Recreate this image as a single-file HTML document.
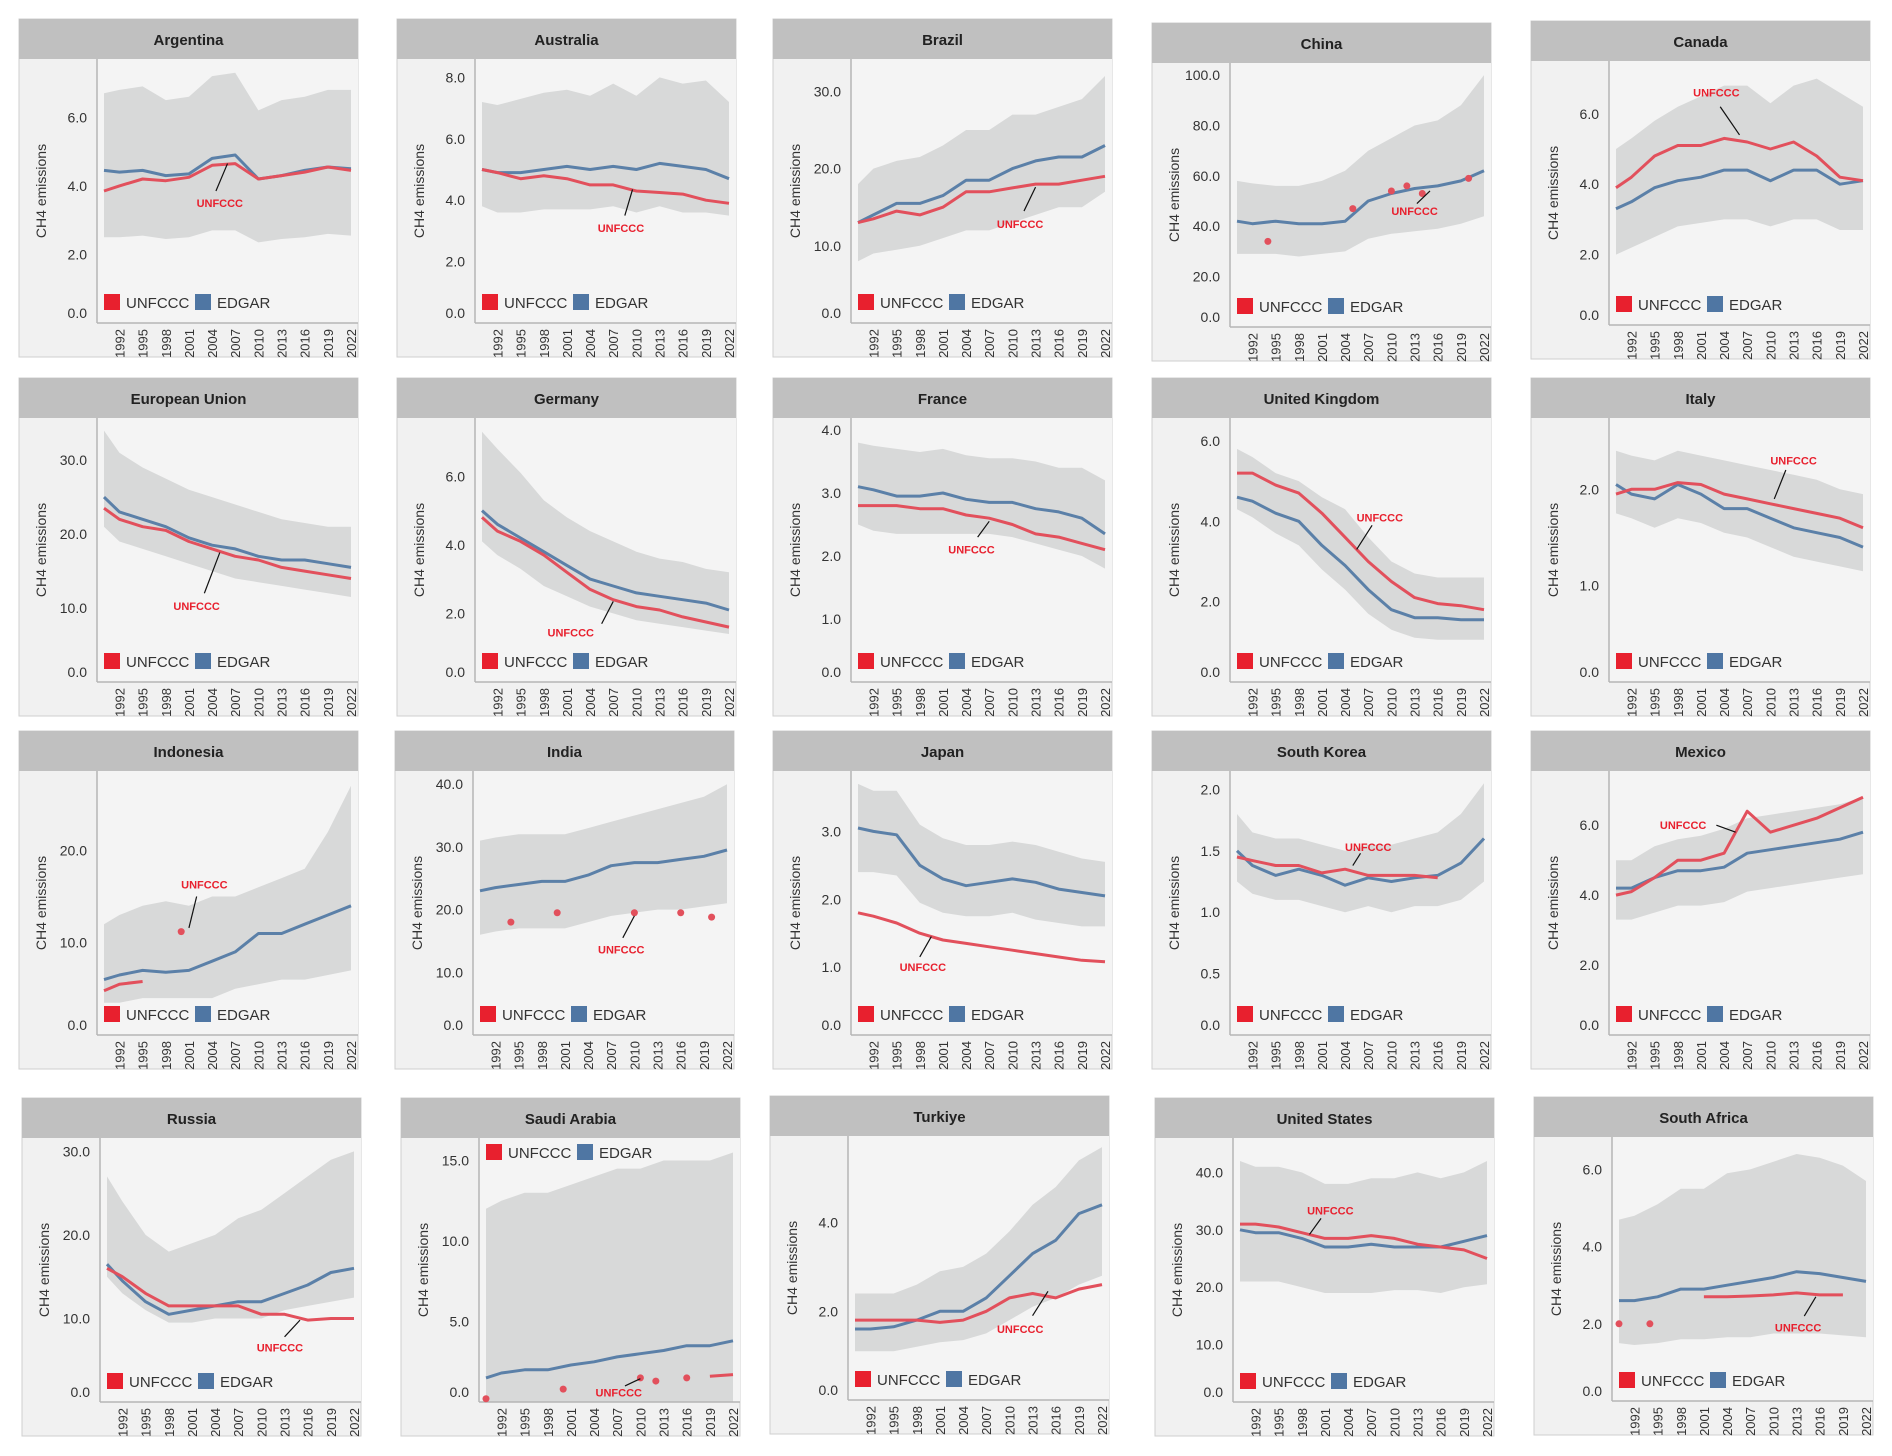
<!DOCTYPE html>
<html><head><meta charset="utf-8">
<style>
html,body{margin:0;padding:0;background:#fff;}
svg{display:block;font-family:"Liberation Sans",sans-serif;}
</style></head>
<body>
<svg id="chart" width="1892" height="1456" viewBox="0 0 1892 1456" xmlns="http://www.w3.org/2000/svg"></svg>
<script>
const years = [1990,1992,1995,1998,2001,2004,2007,2010,2013,2016,2019,2022];
const tickYears = [1992,1995,1998,2001,2004,2007,2010,2013,2016,2019,2022];
const countries = ["Argentina","Australia","Brazil","China","Canada","European Union","Germany","France","United Kingdom","Italy","Indonesia","India","Japan","South Korea","Mexico","Russia","Saudi Arabia","Turkiye","United States","South Africa"];
const yMaxes = [7.7,8.6,34.2,104.8,7.5,35.7,7.7,4.19,6.57,2.74,28.6,42.1,3.89,2.15,7.55,31.6,16.4,5.95,46,6.84];
const tickSteps = [2,2,10,20,2,10,2,1,2,1,10,10,1,0.5,2,10,5,2,10,2];
const edgar = [
[4.45,4.4,4.45,4.3,4.35,4.8,4.9,4.2,4.3,4.45,4.55,4.5],
[5.0,4.9,4.9,5.0,5.1,5.0,5.1,5.0,5.2,5.1,5.0,4.7],
[13,14,15.5,15.5,16.5,18.5,18.5,20,21,21.5,21.5,23],
[42,41,42,41,41,42,50,53,55,56,58,62],
[3.3,3.5,3.9,4.1,4.2,4.4,4.4,4.1,4.4,4.4,4.0,4.1],
[25,23,22,21,19.5,18.5,18,17,16.5,16.5,16,15.5],
[5.0,4.6,4.2,3.8,3.4,3.0,2.8,2.6,2.5,2.4,2.3,2.1],
[3.1,3.05,2.95,2.95,3.0,2.9,2.85,2.85,2.75,2.7,2.6,2.35],
[4.6,4.5,4.2,4.0,3.4,2.9,2.3,1.8,1.6,1.6,1.55,1.55],
[2.05,1.95,1.9,2.05,1.95,1.8,1.8,1.7,1.6,1.55,1.5,1.4],
[6,6.5,7,6.8,7,8,9,11,11,12,13,14],
[23,23.5,24,24.5,24.5,25.5,27,27.5,27.5,28,28.5,29.5],
[3.05,3.0,2.95,2.5,2.3,2.2,2.25,2.3,2.25,2.15,2.1,2.05],
[1.5,1.38,1.3,1.35,1.3,1.22,1.28,1.25,1.28,1.3,1.4,1.6],
[4.2,4.2,4.5,4.7,4.7,4.8,5.2,5.3,5.4,5.5,5.6,5.8],
[16.5,14.5,12,10.5,11,11.5,12,12,13,14,15.5,16],
[1.5,1.8,2,2,2.3,2.5,2.8,3,3.2,3.5,3.5,3.8],
[1.6,1.6,1.65,1.8,2.0,2.0,2.3,2.8,3.3,3.6,4.2,4.4],
[30,29.5,29.5,28.5,27,27,27.5,27,27,27,28,29],
[2.6,2.6,2.7,2.9,2.9,3.0,3.1,3.2,3.35,3.3,3.2,3.1]];
const upper = [
[6.7,6.8,6.9,6.5,6.6,7.2,7.3,6.2,6.5,6.6,6.8,6.8],
[7.2,7.1,7.3,7.5,7.6,7.4,7.8,7.4,8.0,7.8,7.9,7.2],
[18,20,21,21.5,23,25,25,27,27,28,29,32],
[58,57,56,56,58,62,70,75,80,82,88,100],
[5.0,5.3,5.8,6.2,6.5,6.8,6.8,6.3,6.8,7.0,6.6,6.2],
[34,31,29,27.5,26,25,24,23,22,21.5,21,21],
[7.3,6.8,6.1,5.3,4.8,4.4,4.1,3.8,3.6,3.5,3.3,3.2],
[3.8,3.75,3.7,3.65,3.7,3.6,3.55,3.55,3.5,3.4,3.4,3.2],
[5.8,5.6,5.2,5.0,4.6,4.3,3.6,3.0,2.7,2.6,2.6,2.6],
[2.4,2.35,2.3,2.4,2.35,2.3,2.25,2.2,2.15,2.1,2.0,1.95],
[12,13,14,14.5,14,15,15,16,17,18,22,27],
[31,31.5,32,32,32,33,34,35,36,37,38,40],
[3.7,3.6,3.6,3.1,2.9,2.8,2.8,2.85,2.8,2.7,2.6,2.55],
[1.8,1.65,1.6,1.6,1.55,1.5,1.55,1.55,1.6,1.65,1.8,2.05],
[5.0,5.0,5.4,5.6,5.7,5.9,6.2,6.3,6.4,6.5,6.6,6.8],
[27,24,20,18,19,20,22,23,25,27,29,30],
[12,12.5,13,13,13.5,14,14.5,14.5,15,15,15,15.5],
[2.4,2.4,2.4,2.6,2.9,3.0,3.3,3.8,4.4,4.8,5.4,5.7],
[42,41,41,40,38,38,39,39,40,39,40,42],
[4.7,4.8,5.1,5.5,5.5,5.9,6.0,6.2,6.4,6.3,6.1,5.7]];
const lower = [
[2.5,2.5,2.55,2.45,2.5,2.7,2.7,2.35,2.45,2.5,2.6,2.55],
[3.8,3.6,3.6,3.7,3.7,3.7,3.8,3.6,3.8,3.6,3.6,3.5],
[8,9,9.5,10,11,12,12,13,14,15,15,17],
[29,29,29,28,29,30,35,37,38,39,41,44],
[2.0,2.2,2.5,2.8,2.9,3.0,3.0,2.8,3.0,3.0,2.7,2.7],
[21,19,18,17,16,15,14,13.5,13,12.5,12,11.5],
[4.1,3.7,3.3,2.8,2.5,2.2,2.0,1.8,1.7,1.6,1.5,1.4],
[2.5,2.4,2.35,2.35,2.35,2.35,2.35,2.3,2.2,2.1,2.0,1.8],
[4.3,4.1,3.7,3.4,2.8,2.3,1.7,1.3,1.1,1.05,1.05,1.05],
[1.75,1.7,1.6,1.7,1.65,1.55,1.5,1.4,1.3,1.25,1.2,1.15],
[3.5,3.5,4,4,4,4,5,5.5,6,6,6.5,7],
[16,16.5,17,17,17,18,19,19.5,20,20,20.5,21],
[2.4,2.4,2.35,1.95,1.8,1.75,1.75,1.8,1.7,1.65,1.6,1.6],
[1.25,1.15,1.1,1.1,1.05,1.0,1.05,1.0,1.05,1.05,1.1,1.25],
[3.3,3.3,3.5,3.7,3.7,3.8,4.1,4.2,4.3,4.4,4.5,4.6],
[15,13,11,9.5,9.5,10,10,10,11,11.5,12,12.5],
[0,0,0,0,0,0,0,0,0,0,0,0],
[1.1,1.1,1.1,1.2,1.3,1.35,1.5,1.8,2.1,2.3,2.6,2.8],
[21,21,21,20,19,19,19,19.5,19.5,19,20,20.5],
[1.5,1.45,1.5,1.6,1.6,1.65,1.65,1.75,1.75,1.75,1.7,1.65]];
const unfccc = [
[3.85,4.0,4.2,4.15,4.25,4.6,4.65,4.2,4.3,4.4,4.55,4.45],
[5.0,4.9,4.7,4.8,4.7,4.5,4.5,4.3,4.25,4.2,4.0,3.9],
[13,13.5,14.5,14,15,17,17,17.5,18,18,18.5,19],
[null,null,null,null,null,null,null,null,null,null,null,null],
[3.9,4.2,4.8,5.1,5.1,5.3,5.2,5.0,5.2,4.8,4.2,4.1],
[23.5,22,21,20.5,19,18,17,16.5,15.5,15,14.5,14],
[4.8,4.4,4.1,3.7,3.2,2.7,2.4,2.2,2.1,1.9,1.75,1.6],
[2.8,2.8,2.8,2.75,2.75,2.65,2.6,2.5,2.35,2.3,2.2,2.1],
[5.2,5.2,4.9,4.7,4.2,3.6,3.0,2.5,2.1,1.95,1.9,1.8],
[1.95,2.0,2.0,2.07,2.05,1.95,1.9,1.85,1.8,1.75,1.7,1.6],
[4.8,5.5,5.8,null,null,null,null,null,null,null,null,null],
[null,null,null,null,null,null,null,null,null,null,null,null],
[1.8,1.75,1.65,1.5,1.4,1.35,1.3,1.25,1.2,1.15,1.1,1.08],
[1.45,1.42,1.38,1.38,1.32,1.35,1.3,1.3,1.3,1.28,null,null],
[4.0,4.1,4.5,5.0,5.0,5.2,6.4,5.8,6.0,6.2,6.5,6.8],
[16,15,13,11.5,11.5,11.5,11.5,10.5,10.5,9.8,10,10],
[null,null,null,null,null,null,null,null,null,null,1.6,1.7],
[1.8,1.8,1.8,1.8,1.75,1.8,2.0,2.3,2.4,2.3,2.5,2.6],
[31,31,30.5,29.5,28.5,28.5,29,28.5,27.5,27,26.5,25],
[null,null,null,null,2.7,2.7,2.72,2.75,2.8,2.75,2.75,null]];
const dotYears = {3:[1994,2005,2010,2012,2014,2020],10:[2000],11:[1994,2000,2010,2016,2020],16:[1990,2000,2010,2012,2016],19:[1990,1994]};
const dotValues = {3:[34,47,54,56,53,59],10:[11.2],11:[18,19.5,19.5,19.5,18.8],16:[0.2,0.8,1.5,1.3,1.5],19:[2.0,2.0]};
const annot = [
[2005,3.5,2004.5,3.85,2006,4.65],[2008,3.1,2008.5,3.5,2009.5,4.35],[2011,12.8,2011.5,14.5,2013,17.6],
[2013,46,2013.3,49,2015,54],[2003,6.6,2003.5,6.2,2006,5.4],[2002,10.3,2003,12,2005,17.5],
[2001.5,1.45,2005.5,1.7,2007,2.35],[2004.7,2.1,2005.5,2.3,2007,2.55],[2008.5,4.1,2007.5,3.9,2005.5,3.3],
[2013,2.3,2012,2.2,2010.5,1.9],[2003,16.3,2002,15,2001,11.6],[2008.3,13.6,2008.5,15.5,2010,19],
[1998.4,1.0,1998,1.15,1999.5,1.45],[2007,1.53,2006,1.48,2005,1.38],[1998.7,6.0,2003,6.0,2005.5,5.8],
[2012.4,6.5,2013,7.8,2015,9.8],[2007.2,0.6,2008,1.0,2010,1.45],[2011.4,1.6,2013,1.9,2015,2.45],
[2001.7,33.4,2000.5,32,1999,29.2],[2013.2,1.9,2014,2.2,2015.5,2.7]];
const legendTop = [0,0,0,0,0,0,0,0,0,0,0,0,0,0,0,0,1,0,0,0];
const panelX = [19,397,773,1152,1531, 19,397,773,1152,1531, 19,395,773,1152,1531, 22,401,770,1155,1534];
const panelY = [19,19,19,23,21, 378,378,378,378,378, 731,731,731,731,731, 1098,1098,1096,1098,1097];

const svg = document.getElementById('chart');
const NS = 'http://www.w3.org/2000/svg';
function mk(tag, attrs, parent){const e=document.createElementNS(NS,tag);for(const k in attrs)e.setAttribute(k,attrs[k]);parent.appendChild(e);return e;}
const PW=339, PH=338, HH=40, PL=78, PB=304, PT=40;
function xs(yr){return 85+(yr-1990)*7.72;}

countries.forEach((name,i)=>{
  const g = mk('g',{transform:`translate(${panelX[i]},${panelY[i]})`},svg);
  
  
  const yMax=yMaxes[i];
  const ys = v => PB - v/yMax*(PB-PT);
  const bg = mk('rect',{x:0,y:0,width:PW,height:PH,fill:'#f1f1f1',stroke:'#cfcfcf','stroke-width':1},g);
  
  
  const hd = mk('rect',{x:0,y:0,width:PW,height:HH,fill:'#c0c0c0'},g);
  
  
  const tt = mk('text',{x:PW/2,y:26,'text-anchor':'middle','font-size':15,'font-weight':'bold',fill:'#222'},g);
  tt.textContent=name;
  
  
  const pa = mk('rect',{x:PL,y:PT,width:PW-PL,height:PB-PT,fill:'#f4f4f4'},g);
  
  
  let d='';
  years.forEach((yr,k)=>{d+=(k?'L':'M')+xs(yr).toFixed(1)+','+ys(upper[i][k]).toFixed(1);});
  for(let k=years.length-1;k>=0;k--){d+='L'+xs(years[k]).toFixed(1)+','+ys(lower[i][k]).toFixed(1);}
  const band = mk('path',{d:d+'Z',fill:'#d8d9d9'},g);
  
  
  mk('line',{x1:PL,y1:PT,x2:PL,y2:PB,stroke:'#b5b5b5','stroke-width':1.5},g);
  mk('line',{x1:PL,y1:PB,x2:PW,y2:PB,stroke:'#b5b5b5','stroke-width':1.5},g);
  const step=tickSteps[i];
  for(let v=0; v<=yMax+1e-9; v+=step){
    const t=mk('text',{x:PL-10,y:ys(v)+5-(v===0?10:0),'text-anchor':'end','font-size':14,fill:'#333'},g);
    t.textContent=v.toFixed(1);
    
    
  }
  const yt=mk('text',{transform:`translate(27,${(PT+PB)/2}) rotate(-90)`,'text-anchor':'middle','font-size':14,fill:'#333'},g);
  yt.textContent='CH4 emissions';
  
  
  tickYears.forEach(yr=>{
    const t=mk('text',{transform:`translate(${xs(yr)+5},${PB+6}) rotate(-90)`,'text-anchor':'end','font-size':13,fill:'#333'},g);
    t.textContent=yr;
    
    
  });
  function linePath(arr){let s='',pen=false;years.forEach((yr,k)=>{const v=arr[k];if(v==null){pen=false;return;}s+=(pen?'L':'M')+xs(yr).toFixed(1)+','+ys(v).toFixed(1);pen=true;});return s;}
  const el=mk('path',{d:linePath(edgar[i]),fill:'none',stroke:'#5b80a8','stroke-width':3,'stroke-linejoin':'round'},g);
  
  
  const ul=mk('path',{d:linePath(unfccc[i]),fill:'none',stroke:'#e2505c','stroke-width':3,'stroke-linejoin':'round'},g);
  
  
  if(dotYears[i]){dotYears[i].forEach((yr,k)=>{
    const c=mk('circle',{cx:xs(yr),cy:ys(dotValues[i][k]),r:3.5,fill:'#e2505c'},g);
    
    
  });}
  const a=annot[i];
  mk('line',{x1:xs(a[2]),y1:ys(a[3]),x2:xs(a[4]),y2:ys(a[5]),stroke:'#111','stroke-width':1.2},g);
  const at=mk('text',{x:xs(a[0]),y:ys(a[1])+4,'text-anchor':'middle','font-size':11,'font-weight':'bold',fill:'#e8202e'},g);
  at.textContent='UNFCCC';
  
  
  const ly = legendTop[i]?46:275;
  const lg=mk('g',{transform:`translate(85,${ly})`},g);
  
  
  mk('rect',{x:0,y:0,width:16,height:16,fill:'#e8202e'},lg);
  const l1=mk('text',{x:22,y:14,'font-size':15,fill:'#333'},lg);l1.textContent='UNFCCC';
  
  
  mk('rect',{x:91,y:0,width:16,height:16,fill:'#4f76a3'},lg);
  const l2=mk('text',{x:113,y:14,'font-size':15,fill:'#333'},lg);l2.textContent='EDGAR';
  
  
});
</script>
</body></html>
